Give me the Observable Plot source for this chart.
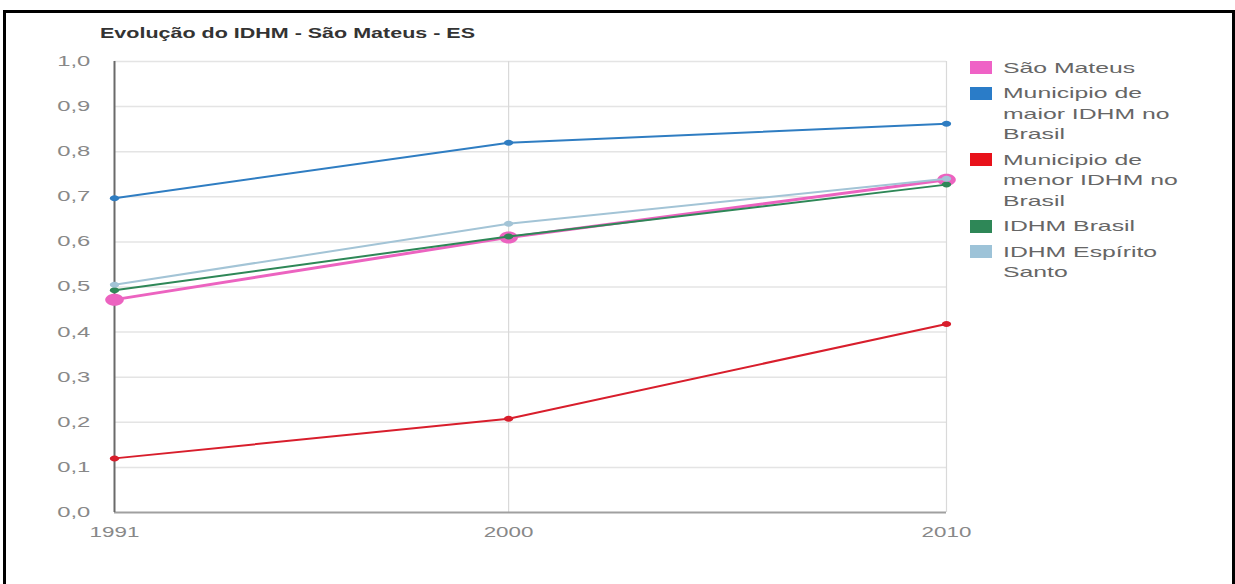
<!DOCTYPE html>
<html>
<head>
<meta charset="utf-8">
<script src="https://cdn.jsdelivr.net/npm/d3@7"></script>
<script src="https://cdn.jsdelivr.net/npm/@observablehq/plot@0.6"></script>
<style>
  html, body { margin: 0; padding: 0; background: #fff; }
  body { width: 1235px; height: 584px; position: relative; overflow: hidden; font-family: "Liberation Sans", Arial, sans-serif; }
  #chart { position: absolute; left: 0; top: 0; }
  #frame { position: absolute; left: 3px; top: 10px; width: 1232px; height: 620px; box-sizing: border-box; border: 3px solid #000; border-bottom: none; pointer-events: none; }
  #title { position: absolute; left: 100px; top: 25px; font-size: 15px; line-height: 15px; font-weight: bold; color: #333; white-space: nowrap; transform-origin: 0 0; }
  #legend { position: absolute; left: 970px; top: 57.5px; display: flex; flex-direction: column; gap: 5px; }
  .item { position: relative; padding-left: 33px; font-size: 15px; line-height: 20.5px; color: #666; }
  .sw { position: absolute; left: 0; top: 3.75px; width: 22px; height: 13px; }
  .txt { display: inline-block; white-space: nowrap; transform: scaleX(1.65); transform-origin: 0 0; }
</style>
</head>
<body>
<div id="chart"></div>
<div id="title">Evolução do IDHM - São Mateus - ES</div>
<div id="legend"></div>
<div id="frame"></div>
<script>
const years = [1991, 2000, 2010];
const seriesNames = ["São Mateus", "Municipio de maior IDHM no Brasil", "Municipio de menor IDHM no Brasil", "IDHM Brasil", "IDHM Espírito Santo"];
const legendLines = [["São Mateus"], ["Municipio de", "maior IDHM no", "Brasil"], ["Municipio de", "menor IDHM no", "Brasil"], ["IDHM Brasil"], ["IDHM Espírito", "Santo"]];
const saoMateus = [0.472, 0.610, 0.738];
const maiorIdhm = [0.697, 0.820, 0.862];
const menorIdhm = [0.120, 0.208, 0.418];
const idhmBrasil = [0.493, 0.612, 0.727];
const idhmEspiritoSanto = [0.505, 0.640, 0.740];
const seriesColors = ["#ec63c0", "#2f7dc2", "#d81e2c", "#2e8757", "#a3c4d6"];
const swatchColors = ["#ef62c6", "#2a7cc8", "#e8111a", "#2e8757", "#9dc3d8"];
const yTicks = [0, 0.1, 0.2, 0.3, 0.4, 0.5, 0.6, 0.7, 0.8, 0.9, 1.0];
const xTicks = [1991, 2000, 2010];

const allValues = [saoMateus, maiorIdhm, menorIdhm, idhmBrasil, idhmEspiritoSanto];
const rowsFor = (i) => years.map((year, j) => ({year, value: allValues[i][j], series: seriesNames[i]}));

// ellipse symbol (chart is horizontally stretched)
const ellipse = {
  draw(ctx, size) {
    const r = Math.sqrt(size / Math.PI), rx = r * 1.55, ry = r, k = 0.5523;
    ctx.moveTo(rx, 0);
    ctx.bezierCurveTo(rx, ry * k, rx * k, ry, 0, ry);
    ctx.bezierCurveTo(-rx * k, ry, -rx, ry * k, -rx, 0);
    ctx.bezierCurveTo(-rx, -ry * k, -rx * k, -ry, 0, -ry);
    ctx.bezierCurveTo(rx * k, -ry, rx, -ry * k, rx, 0);
    ctx.closePath();
  }
};

const seriesMarks = [];
allValues.forEach((_, i) => {
  const pink = i === 0;
  seriesMarks.push(Plot.line(rowsFor(i), {x: "year", y: "value", stroke: seriesColors[i], strokeWidth: pink ? 3 : 2}));
  seriesMarks.push(Plot.dot(rowsFor(i), {x: "year", y: "value", fill: seriesColors[i], r: pink ? 6 : 3, symbol: ellipse}));
});

const chart = Plot.plot({
  width: 1235, height: 584,
  marginLeft: 114, marginRight: 289, marginTop: 61, marginBottom: 72,
  style: {fontFamily: "'Liberation Sans', Arial, sans-serif", fontSize: "14px", background: "transparent", color: "#888"},
  x: {type: "linear", domain: [1991, 2010], ticks: xTicks, tickFormat: d => String(d), tickSize: 0, tickPadding: 15, label: null},
  y: {domain: [0, 1], ticks: yTicks, tickFormat: d => d.toFixed(1).replace(".", ","), tickSize: 0, tickPadding: 24, label: null},
  marks: [
    Plot.ruleY(yTicks.filter(d => d > 0), {stroke: "#e4e4e4", strokeWidth: 1.5}),
    Plot.ruleX([2000, 2010], {stroke: "#d9d9d9", strokeWidth: 1.2}),
    Plot.ruleY([0], {stroke: "#a0a0a0", strokeWidth: 2}),
    Plot.ruleX([1991], {stroke: "#6a6a6a", strokeWidth: 2}),
    ...seriesMarks
  ]
});
document.getElementById("chart").appendChild(chart);

// horizontal stretch of tick labels
chart.querySelectorAll("text").forEach(t => {
  const b = t.getBBox();
  const anchor = getComputedStyle(t).textAnchor;
  let ax, k;
  if (anchor === "end") { ax = b.x + b.width; k = 1.7; }
  else if (anchor === "middle") { ax = b.x + b.width / 2; k = 1.6; }
  else { ax = b.x; k = 1.6; }
  t.setAttribute("transform", (t.getAttribute("transform") || "") + ` translate(${ax},0) scale(${k},1) translate(${-ax},0)`);
});

// title stretch to reference width
const title = document.getElementById("title");
const tw = title.getBoundingClientRect().width;
title.style.transform = `scaleX(${375 / tw})`;

// legend
const legend = d3.select("#legend");
seriesNames.forEach((name, i) => {
  const item = legend.append("div").attr("class", "item");
  item.append("div").attr("class", "sw").style("background", swatchColors[i]);
  legendLines[i].forEach(line => {
    item.append("div").append("span").attr("class", "txt").text(line);
  });
});
</script>
</body>
</html>
